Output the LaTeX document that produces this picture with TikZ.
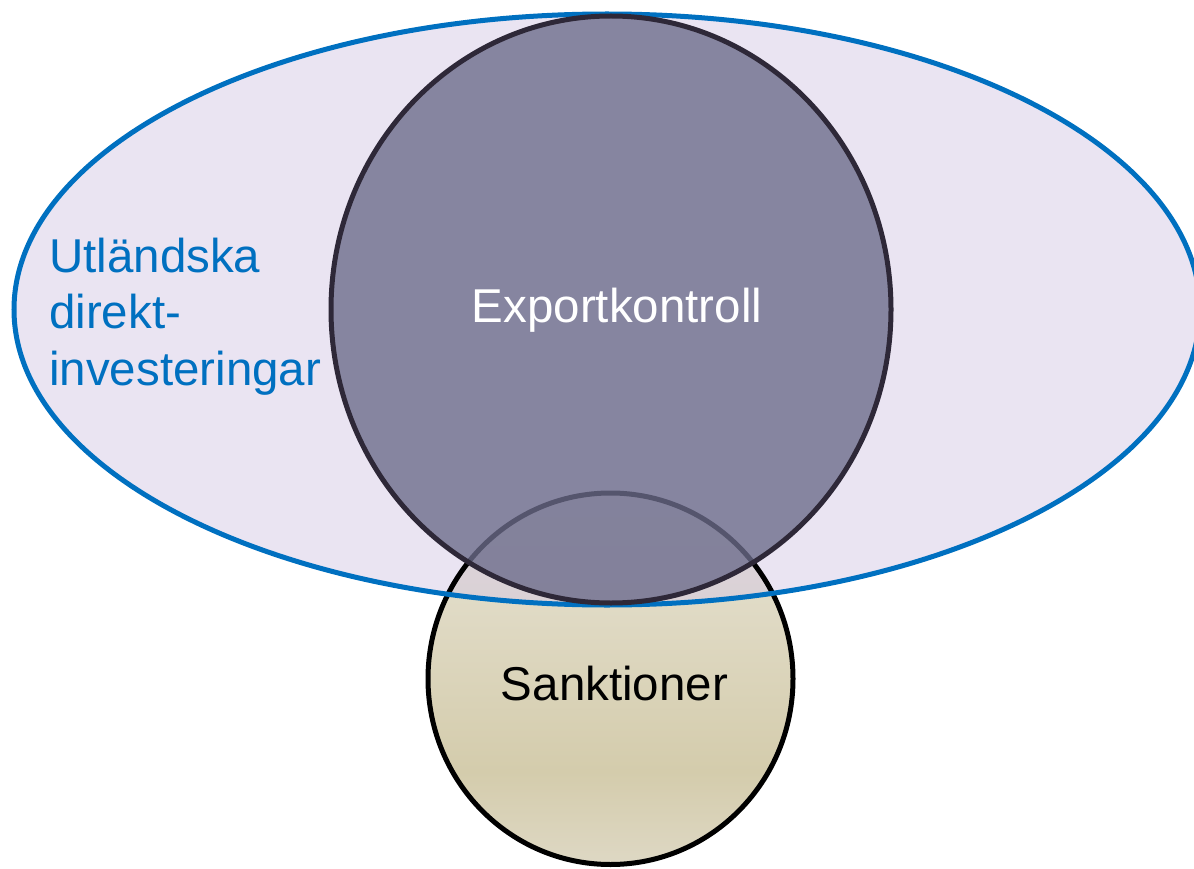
\documentclass[tikz,border=0pt]{standalone}
\usepackage{fontspec}
\setmainfont{Liberation Sans}
\definecolor{blueline}{RGB}{0,112,192}
\definecolor{lavfill}{RGB}{213,201,229}
\definecolor{expfill}{RGB}{108,108,139}
\definecolor{expline}{RGB}{46,40,56}
\definecolor{stop}{RGB}{232,228,214}
\definecolor{smid}{RGB}{212,204,172}
\definecolor{sbot}{RGB}{222,216,196}
\pgfdeclareverticalshading{sank}{100bp}{color(0bp)=(sbot); color(25bp)=(sbot); color(37.5bp)=(smid); color(75bp)=(stop); color(100bp)=(stop)}
\tikzset{
  lbl/.style={inner sep=0pt, font=\fontsize{47.5}{56.5}\selectfont},
}
\begin{document}
\begin{tikzpicture}[x=1pt,y=-1pt]
\useasboundingbox (0,0) rectangle (1194,869);
% Sanktioner circle fill
\shade[shading=sank] (610.5,678.75) ellipse [x radius=182.5, y radius=185.75];
% big ellipse fill (semi transparent)
\fill[lavfill, fill opacity=0.5] (607,309.5) ellipse [x radius=593, y radius=295.5];
% Sanktioner outline
\draw[black, line width=5pt] (610.5,678.75) ellipse [x radius=182.5, y radius=185.75];
% big ellipse outline
\draw[blueline, line width=5pt] (607,309.5) ellipse [x radius=593, y radius=295.5];
% Exportkontroll circle
\fill[expfill, fill opacity=0.79] (611,309.5) ellipse [x radius=280, y radius=293.5];
\draw[expline, line width=5pt] (611,309.5) ellipse [x radius=280, y radius=293.5];
% labels
\node[lbl, text=white, anchor=base] (exp) at (617,322) {Exportkontroll};
\node[lbl, text=black, anchor=base] (sank) at (614.5,700) {Sanktioner};
\node[lbl, text=blueline, anchor=base west, align=left] (fdi) at (49,385) {Utländska\\direkt-\\investeringar};
\end{tikzpicture}
\end{document}
